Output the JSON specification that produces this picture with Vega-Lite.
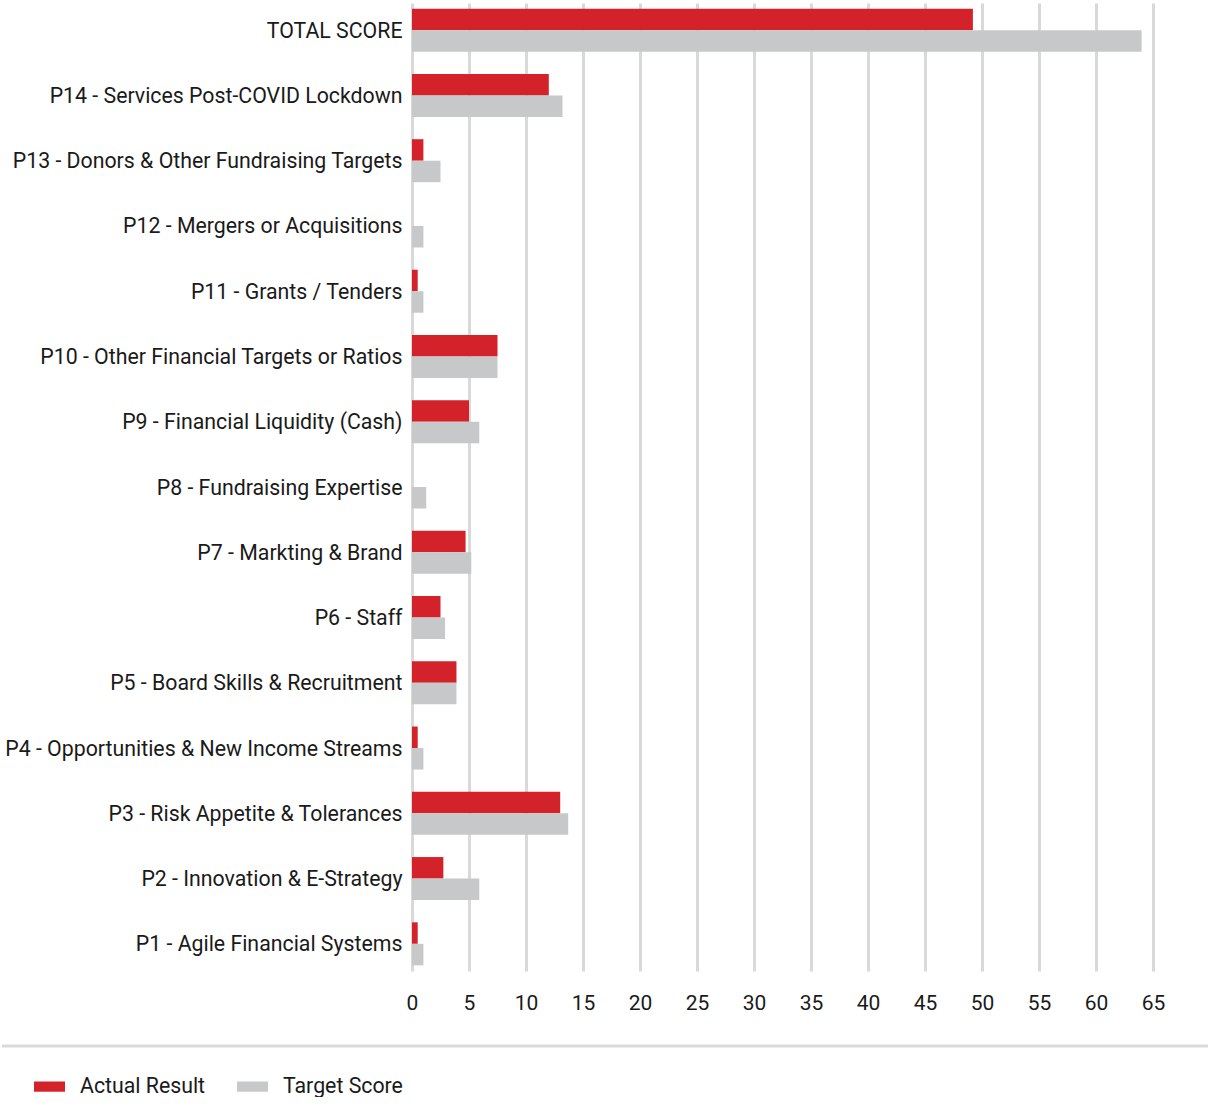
{
  "$schema": "https://vega.github.io/schema/vega-lite/v6.json",
  "padding": {"left": 0, "top": 3, "right": 0, "bottom": 0},
  "spacing": 31,
  "columns": 1,
  "align": "none",
  "config": {
    "font": "Roboto",
    "view": {"stroke": null},
    "legend": {
      "orient": "none",
      "direction": "horizontal",
      "legendX": -378,
      "legendY": 1068,
      "padding": 0,
      "title": null,
      "symbolType": "M-1,-0.33H1V0.33H-1Z",
      "symbolSize": 961,
      "symbolStrokeWidth": 0,
      "labelFontSize": 21.3,
      "labelFont": "Roboto",
      "labelColor": "#1a1a1a",
      "labelOffset": 15,
      "columnPadding": 31,
      "labelLimit": 300
    }
  },
  "concat": [
    {
      "width": 741,
      "height": 968,
      "data": {
        "values": [
          {"item": "TOTAL SCORE", "series": "Actual Result", "score": 49.2},
          {"item": "TOTAL SCORE", "series": "Target Score", "score": 64},
          {"item": "P14 - Services Post-COVID Lockdown", "series": "Actual Result", "score": 12},
          {"item": "P14 - Services Post-COVID Lockdown", "series": "Target Score", "score": 13.2},
          {"item": "P13 - Donors & Other Fundraising Targets", "series": "Actual Result", "score": 1},
          {"item": "P13 - Donors & Other Fundraising Targets", "series": "Target Score", "score": 2.5},
          {"item": "P12 - Mergers or Acquisitions", "series": "Actual Result", "score": 0},
          {"item": "P12 - Mergers or Acquisitions", "series": "Target Score", "score": 1},
          {"item": "P11 - Grants / Tenders", "series": "Actual Result", "score": 0.5},
          {"item": "P11 - Grants / Tenders", "series": "Target Score", "score": 1},
          {"item": "P10 - Other Financial Targets or Ratios", "series": "Actual Result", "score": 7.5},
          {"item": "P10 - Other Financial Targets or Ratios", "series": "Target Score", "score": 7.5},
          {"item": "P9 - Financial Liquidity (Cash)", "series": "Actual Result", "score": 5},
          {"item": "P9 - Financial Liquidity (Cash)", "series": "Target Score", "score": 5.9},
          {"item": "P8 - Fundraising Expertise", "series": "Actual Result", "score": 0},
          {"item": "P8 - Fundraising Expertise", "series": "Target Score", "score": 1.25},
          {"item": "P7 - Markting & Brand", "series": "Actual Result", "score": 4.7},
          {"item": "P7 - Markting & Brand", "series": "Target Score", "score": 5.2},
          {"item": "P6 - Staff", "series": "Actual Result", "score": 2.5},
          {"item": "P6 - Staff", "series": "Target Score", "score": 2.9},
          {"item": "P5 - Board Skills & Recruitment", "series": "Actual Result", "score": 3.9},
          {"item": "P5 - Board Skills & Recruitment", "series": "Target Score", "score": 3.9},
          {"item": "P4 - Opportunities & New Income Streams", "series": "Actual Result", "score": 0.5},
          {"item": "P4 - Opportunities & New Income Streams", "series": "Target Score", "score": 1},
          {"item": "P3 - Risk Appetite & Tolerances", "series": "Actual Result", "score": 13},
          {"item": "P3 - Risk Appetite & Tolerances", "series": "Target Score", "score": 13.7},
          {"item": "P2 - Innovation & E-Strategy", "series": "Actual Result", "score": 2.75},
          {"item": "P2 - Innovation & E-Strategy", "series": "Target Score", "score": 5.9},
          {"item": "P1 - Agile Financial Systems", "series": "Actual Result", "score": 0.5},
          {"item": "P1 - Agile Financial Systems", "series": "Target Score", "score": 1}
        ]
      },
      "mark": {"type": "bar"},
      "encoding": {
        "y": {
          "field": "item",
          "type": "nominal",
          "sort": null,
          "scale": {"paddingInner": 0.341, "paddingOuter": 0.087},
          "axis": {
            "title": null,
            "ticks": false,
            "domain": false,
            "labelFontSize": 21.3,
            "labelFont": "Roboto",
            "labelColor": "#1a1a1a",
            "labelPadding": 10,
            "labelOffset": 1.5,
            "labelLimit": 500,
            "minExtent": 410,
            "maxExtent": 410
          }
        },
        "yOffset": {
          "field": "series",
          "type": "nominal",
          "sort": ["Actual Result", "Target Score"],
          "scale": {"paddingInner": 0, "paddingOuter": 0}
        },
        "x": {
          "field": "score",
          "type": "quantitative",
          "scale": {"domain": [0, 65], "nice": false},
          "axis": {
            "title": null,
            "values": [0, 5, 10, 15, 20, 25, 30, 35, 40, 45, 50, 55, 60, 65],
            "ticks": false,
            "domain": false,
            "grid": true,
            "gridColor": "#d9d9d9",
            "gridWidth": 3,
            "labelFontSize": 21,
            "labelFont": "Roboto",
            "labelColor": "#1a1a1a",
            "labelPadding": 21,
            "labelFlush": false,
            "minExtent": 40,
            "maxExtent": 40
          }
        },
        "color": {
          "field": "series",
          "type": "nominal",
          "scale": {"domain": ["Actual Result", "Target Score"], "range": ["#d3222a", "#c7c8ca"]},
          "legend": {}
        }
      }
    },
    {
      "width": 741,
      "height": 20,
      "data": {"values": [{}]},
      "mark": {"type": "rule", "color": "#d9d9d9", "strokeWidth": 3},
      "encoding": {
        "x": {"datum": 0, "type": "quantitative", "scale": {"domain": [0, 1], "range": [-410, 796]}, "axis": null},
        "x2": {"datum": 1},
        "y": {"datum": 1, "type": "quantitative", "scale": {"domain": [0, 1]}, "axis": null}
      }
    }
  ]
}
